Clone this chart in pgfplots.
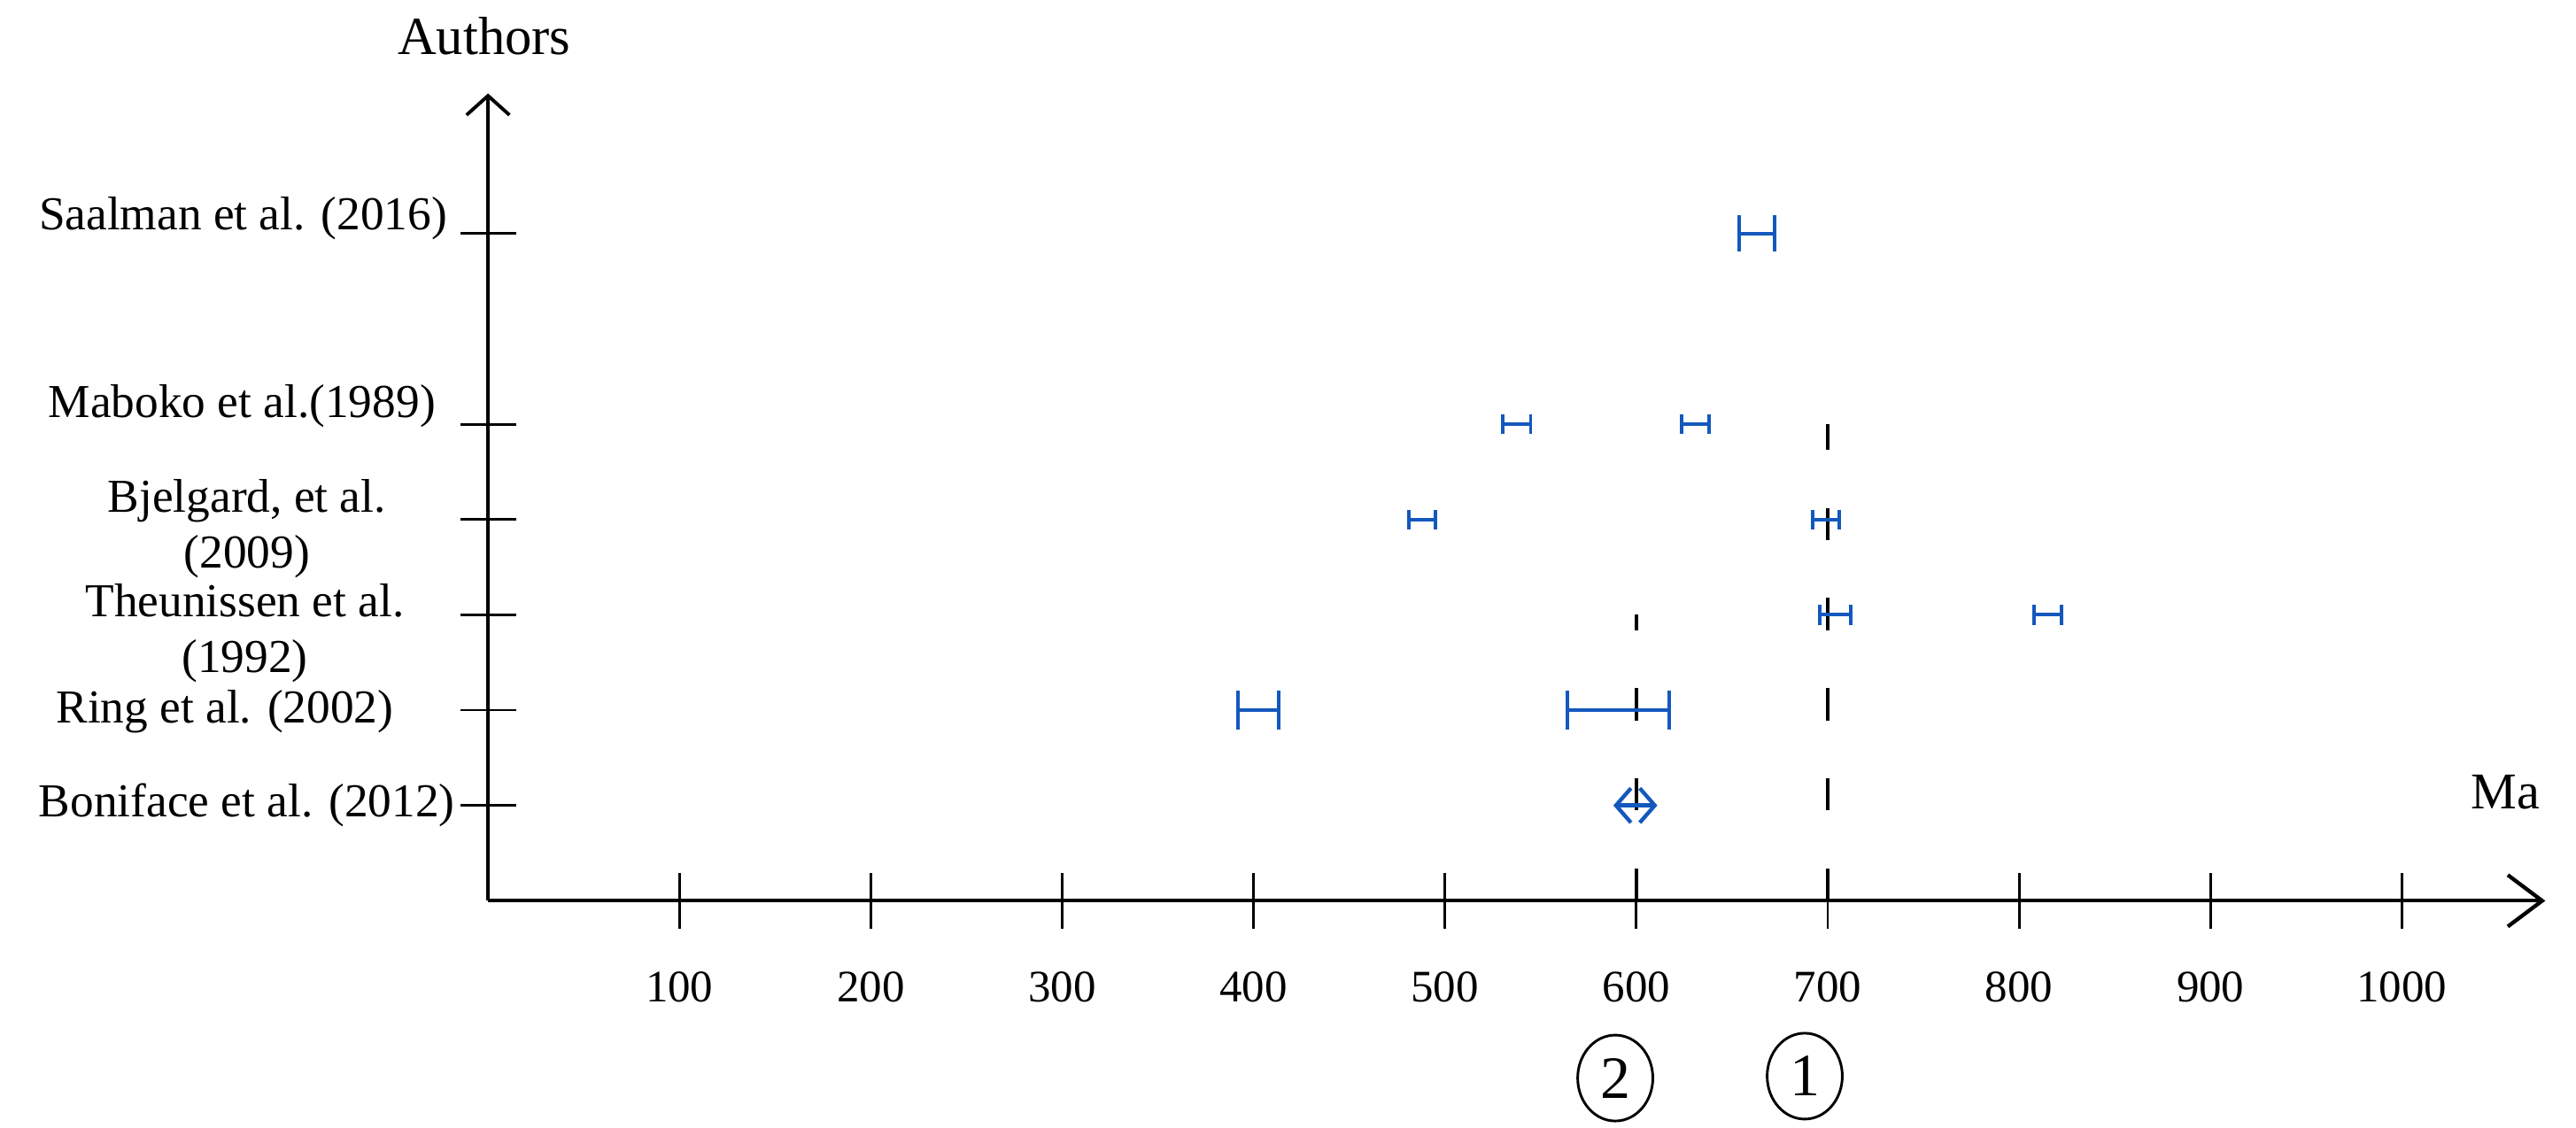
\documentclass[border=0pt]{standalone}
\usepackage{fontspec}
\setmainfont{Liberation Serif}
\usepackage{pgfplots}
\pgfplotsset{compat=1.18}
\usetikzlibrary{arrows.meta,shapes.geometric}
\definecolor{barblue}{RGB}{20,88,190}

% one age range per author row, drawn as x error bars
\pgfplotsset{agebar/.style={only marks, mark=text, text mark={},
    error bars/.cd, x dir=both, x explicit, error mark=|,
    error bar style={line width=0.8pt, barblue},
    error mark options={barblue, line width=0.8pt, mark size=#1}}}

\begin{document}
\begin{tikzpicture}
\begin{axis}[
    scale only axis,
    width=479pt, height=188pt,
    xmin=0, xmax=1075, ymin=0, ymax=8.47,
    axis lines=left,
    axis line style={line width=0.8pt},
    x axis line style={-{Straight Barb[length=8pt,width=12pt,line width=0.9pt]}},
    y axis line style={-{Straight Barb[length=4.5pt,width=10pt,line width=0.8pt]}},
    xtick={100,200,...,1000},
    ytick={1,2,3,4,5,7},
    yticklabels={},
    tick align=center,
    major tick length=13pt,
    tick style={line width=0.6pt, black},
    xticklabel style={font=\fontsize{10.5}{13}\selectfont, yshift=-6.5pt},
    /pgf/number format/assume math mode=true,
    /pgf/number format/1000 sep={},
    clip=false,
]
% reference ages (dashed)
\addplot[black, line width=0.8pt, dash pattern=on 7.5pt off 13.5pt] coordinates {(600,0) (600,3)};
\addplot[black, line width=0.8pt, dash pattern=on 7.5pt off 13.5pt] coordinates {(700,0) (700,5)};

% Saalman et al. (2016)
\addplot[agebar=4.2pt] coordinates {(663,7) +- (9.3,0)};
% Maboko et al. (1989)
\addplot[agebar=2.3pt] coordinates {(537.5,5) +- (7.3,0) (631,5) +- (7.2,0)};
% Bjelgard et al. (2009)
\addplot[agebar=2.3pt] coordinates {(488,4) +- (7,0) (699,4) +- (7,0)};
% Theunissen et al. (1992)
\addplot[agebar=2.3pt] coordinates {(704,3) +- (8,0) (815,3) +- (7,0)};
% Ring et al. (2002)
\addplot[agebar=4.6pt] coordinates {(402.5,2) +- (10.8,0) (590.5,2) +- (26.5,0)};
% Boniface et al. (2012)
\addplot[barblue, line width=0.9pt,
    {Straight Barb[length=3.5pt,width=8pt]}-{Straight Barb[length=3.5pt,width=8pt]}]
    coordinates {(588,1) (611,1)};

% author labels
\begin{scope}[font=\fontsize{11}{13}\selectfont]
\node[anchor=east] at (axis cs:-13.5,7.16) {Saalman et al. (2016)};
\node[anchor=east] at (axis cs:-19.5,5.19) {Maboko et al.(1989)};
\node[align=center] at (axis cs:-126,3.9) {Bjelgard, et al.\\(2009)};
\node[align=center] at (axis cs:-127,2.81) {Theunissen et al.\\(1992)};
\node[anchor=east] at (axis cs:-41.5,1.98) {Ring et al. (2002)};
\node[anchor=east] at (axis cs:-9.5,1.0) {Boniface et al. (2012)};
\end{scope}

% axis titles
\node[font=\fontsize{12.5}{14}\selectfont] at (axis cs:-2,9.07) {Authors};
\node[font=\fontsize{12}{14}\selectfont] at (axis cs:1054,1.14) {Ma};

% circled markers under the axis
\node[draw, ellipse, line width=0.6pt, minimum width=17.5pt, minimum height=20pt, inner sep=0pt,
      font=\fontsize{14}{16}\selectfont] at (axis cs:589,-1.86) {2};
\node[draw, ellipse, line width=0.6pt, minimum width=17.5pt, minimum height=20pt, inner sep=0pt,
      font=\fontsize{14}{16}\selectfont] at (axis cs:688,-1.84) {1};

% keep the page at the reference's extent
\path (axis cs:-255,-2.38) rectangle (axis cs:1091,9.45);
\end{axis}
\end{tikzpicture}
\end{document}
